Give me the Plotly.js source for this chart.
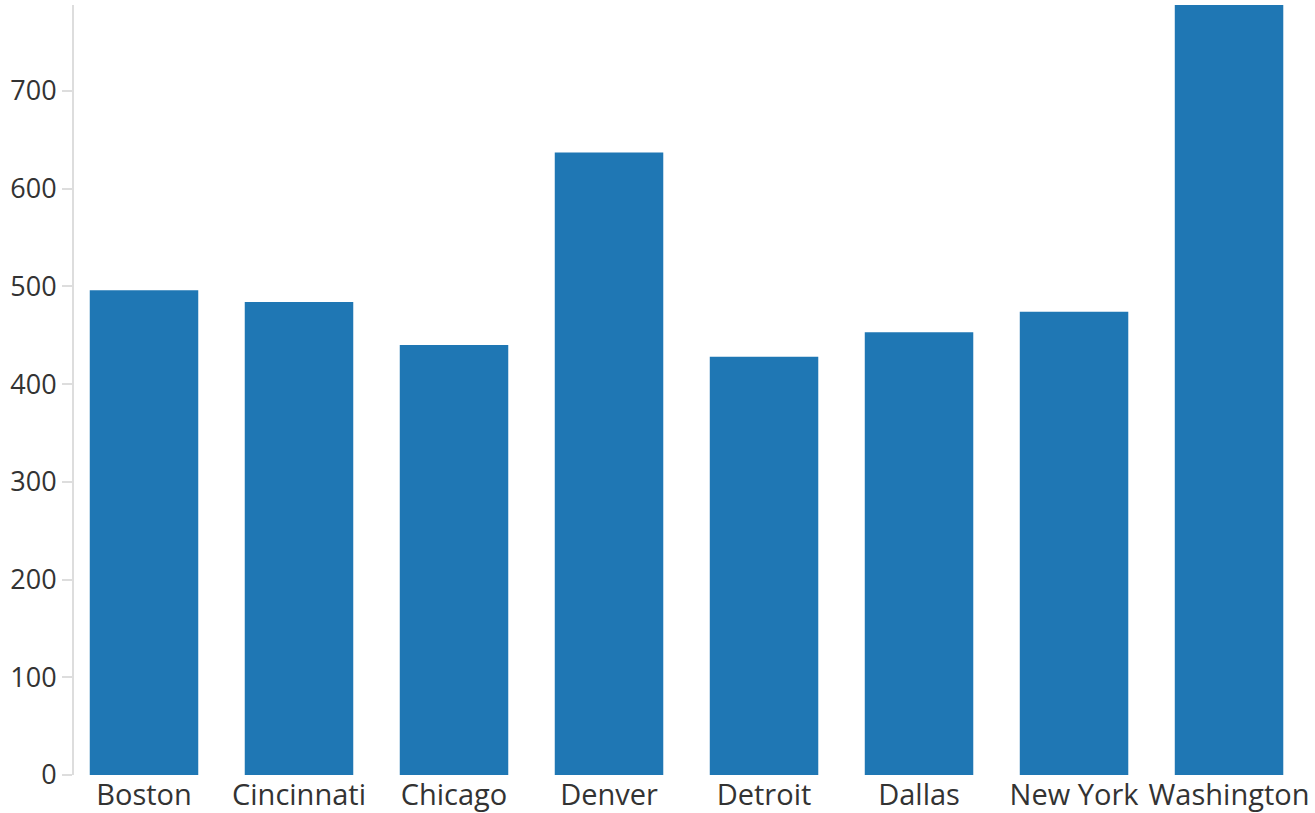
<!DOCTYPE html>
<html>
<head>
<meta charset="utf-8">
<script src="https://cdn.plot.ly/plotly-3.0.1.min.js"></script>
<style>html,body{margin:0;padding:0;background:#fff;}#chart{width:1315px;height:813px;}</style>
</head>
<body>
<div id="chart"></div>
<script>
const cities = ["Boston", "Cincinnati", "Chicago", "Denver", "Detroit", "Dallas", "New York", "Washington"];
const values = [496, 484, 440, 637, 428, 453, 474, 788];
const yTicks = [0, 100, 200, 300, 400, 500, 600, 700];

const trace = {
  type: "bar",
  x: cities,
  y: values,
  marker: {color: "#1f77b4", line: {width: 0}},
  hoverinfo: "x+y"
};

const layout = {
  width: 1315,
  height: 813,
  margin: {l: 74, r: 8, t: 5, b: 38},
  paper_bgcolor: "#fff",
  plot_bgcolor: "#fff",
  bargap: 0.3,
  showlegend: false,
  font: {family: "Open Sans, sans-serif", size: 27, color: "#333"},
  xaxis: {
    type: "category",
    range: [-0.4516, 7.503],
    showgrid: false,
    showline: false,
    zeroline: false,
    ticks: "",
    tickfont: {size: 29, color: "#333"},
    automargin: false
  },
  yaxis: {
    range: [0, 788],
    tickvals: yTicks,
    showgrid: false,
    zeroline: false,
    showline: true,
    linecolor: "#dddddd",
    linewidth: 2,
    ticks: "outside",
    ticklen: 10,
    tickwidth: 2,
    tickcolor: "#dddddd",
    tickfont: {size: 27, color: "#333"},
    automargin: false
  }
};

Plotly.newPlot("chart", [trace], layout, {displayModeBar: false, staticPlot: true});
</script>
</body>
</html>
